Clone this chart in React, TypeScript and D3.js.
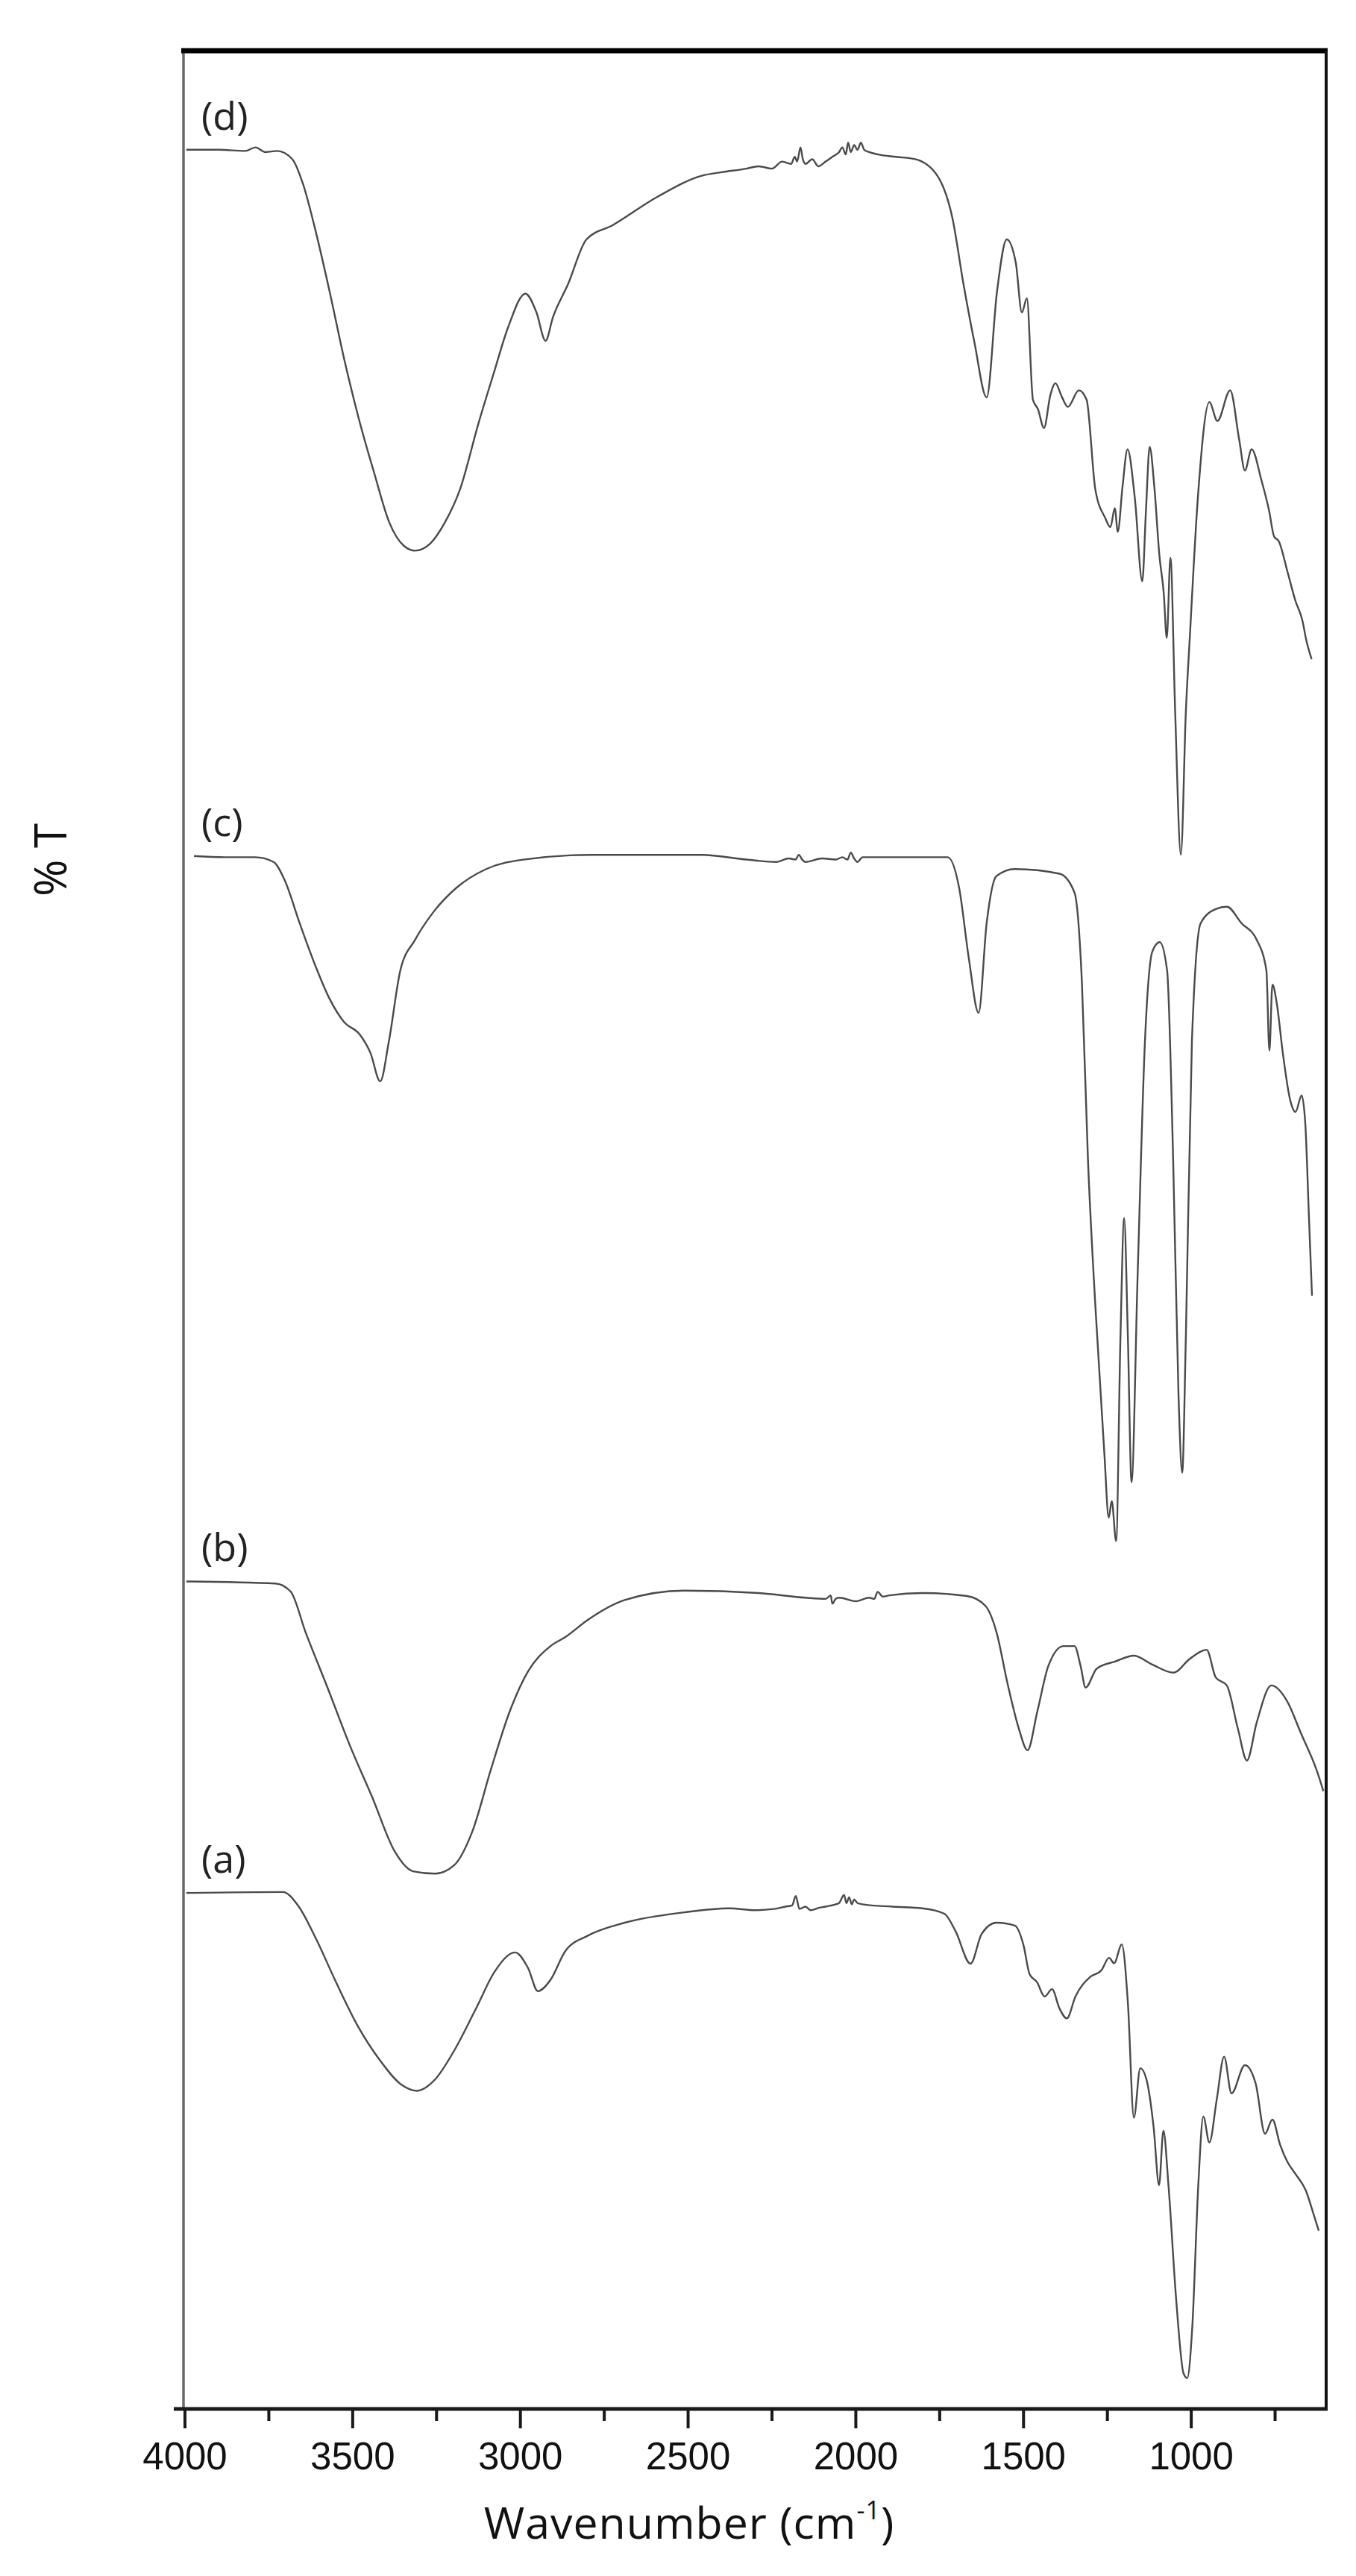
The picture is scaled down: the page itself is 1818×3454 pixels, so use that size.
import React from "react";
import * as d3 from "d3";

// FTIR spectra: [wavenumber (cm-1), %T (offset units)]
const seriesD: [number, number][] = [
  [3996,95.8],[3900,95.8],[3820,95.75],[3790,95.9],[3760,95.7],[3725,95.75],[3680,95.4],[3647,94.3],[3613,92.5],[3569,89.8],[3525,86.9],[3480,84.3],[3436,82.1],[3391,80.0],[3347,79.0],[3314,78.8],[3269,79.1],[3225,80.0],[3180,81.4],[3125,84.2],[3080,86.3],[3036,88.3],[2985,89.7],[2952,88.9],[2925,87.7],[2903,88.7],[2858,90.1],[2803,92.0],[2725,92.6],[2592,93.8],[2459,94.7],[2400,94.85],[2326,95.0],[2290,95.1],[2250,95.0],[2220,95.3],[2193,95.2],[2182,95.5],[2175,95.3],[2165,95.9],[2158,95.4],[2150,95.2],[2130,95.4],[2112,95.1],[2090,95.3],[2070,95.5],[2050,95.7],[2040,95.9],[2030,95.6],[2023,96.1],[2015,95.7],[2005,96.0],[1995,95.8],[1985,96.1],[1975,95.8],[1960,95.7],[1934,95.6],[1880,95.5],[1823,95.4],[1757,94.7],[1712,92.9],[1679,90.1],[1646,87.6],[1610,85.3],[1579,89.8],[1550,92.0],[1523,91.0],[1505,88.9],[1490,89.5],[1472,85.2],[1457,84.8],[1439,84.0],[1420,85.4],[1405,85.9],[1385,85.3],[1368,84.9],[1335,85.6],[1312,85.2],[1286,81.4],[1257,80.2],[1241,79.8],[1228,80.6],[1219,79.6],[1205,81.5],[1190,83.1],[1168,81.0],[1146,77.5],[1135,80.5],[1124,83.2],[1110,81.5],[1095,78.6],[1082,77.0],[1073,75.1],[1062,78.5],[1048,72.0],[1031,65.9],[1016,72.0],[1004,75.2],[980,81.1],[946,85.1],[922,84.3],[884,85.6],[857,83.5],[840,82.2],[820,83.1],[791,81.8],[768,80.5],[753,79.4],[739,79.2],[713,77.9],[690,76.7],[668,75.8],[657,75.0],[641,74.2]
];

const seriesC: [number, number][] = [
  [3973,65.85],[3880,65.8],[3791,65.8],[3736,65.6],[3702,64.8],[3658,63.0],[3614,61.3],[3569,59.8],[3525,58.8],[3480,58.3],[3447,57.5],[3418,56.3],[3392,58.0],[3358,61.0],[3314,62.3],[3258,63.5],[3191,64.5],[3102,65.3],[2991,65.7],[2792,65.9],[2600,65.9],[2459,65.9],[2326,65.7],[2237,65.6],[2200,65.75],[2180,65.7],[2170,65.9],[2160,65.7],[2150,65.6],[2100,65.75],[2060,65.7],[2040,65.8],[2025,65.7],[2015,66.0],[2005,65.75],[1995,65.6],[1980,65.8],[1900,65.8],[1726,65.8],[1692,64.5],[1663,61.5],[1634,59.2],[1610,63.0],[1581,65.0],[1526,65.3],[1393,65.1],[1348,64.3],[1326,60.5],[1308,53.0],[1286,46.8],[1259,40.5],[1246,37.8],[1237,38.5],[1224,36.8],[1211,45.5],[1200,50.5],[1189,45.5],[1178,39.3],[1160,48.0],[1138,58.0],[1116,61.8],[1094,62.2],[1072,61.0],[1054,53.0],[1038,43.0],[1027,39.7],[1016,45.5],[998,58.0],[972,63.0],[927,63.6],[894,63.7],[850,63.0],[805,62.3],[776,61.0],[767,57.6],[758,60.4],[745,59.6],[727,57.5],[705,55.5],[689,55.0],[671,55.7],[660,54.5],[649,50.5],[640,47.2]
];

const seriesB: [number, number][] = [
  [3996,35.09],[3730,35.0],[3685,34.66],[3641,32.96],[3574,30.55],[3508,28.12],[3442,25.95],[3375,23.65],[3320,22.8],[3254,22.7],[3198,23.05],[3143,24.5],[3087,27.16],[3032,29.57],[2977,31.28],[2910,32.35],[2866,32.73],[2799,33.46],[2689,34.3],[2511,34.7],[2290,34.6],[2150,34.4],[2090,34.35],[2075,34.5],[2070,34.15],[2060,34.35],[2050,34.4],[2000,34.25],[1960,34.4],[1945,34.35],[1935,34.65],[1920,34.45],[1900,34.5],[1802,34.6],[1669,34.47],[1614,34.06],[1581,32.96],[1548,30.78],[1514,28.85],[1488,27.93],[1459,29.57],[1426,31.51],[1381,32.35],[1348,32.35],[1330,31.51],[1315,30.59],[1282,31.39],[1226,31.7],[1171,31.94],[1115,31.56],[1053,31.22],[1005,31.8],[954,32.19],[927,31.02],[894,30.68],[861,28.85],[834,27.5],[805,29.1],[761,30.68],[716,30.06],[672,28.62],[628,27.16],[606,26.2]
];

const seriesA: [number, number][] = [
  [3996,21.88],[3708,21.92],[3663,21.35],[3608,19.9],[3553,18.2],[3486,16.27],[3420,14.81],[3353,13.73],[3309,13.49],[3254,13.98],[3198,15.18],[3132,16.99],[3076,18.56],[3016,19.36],[2977,18.69],[2948,17.72],[2910,18.2],[2866,19.42],[2799,20.07],[2689,20.62],[2511,21.06],[2378,21.23],[2300,21.15],[2245,21.2],[2210,21.3],[2190,21.35],[2179,21.75],[2168,21.2],[2150,21.3],[2135,21.15],[2110,21.25],[2090,21.3],[2060,21.4],[2050,21.45],[2035,21.8],[2028,21.45],[2020,21.7],[2012,21.4],[2005,21.6],[1995,21.45],[1980,21.4],[1891,21.3],[1802,21.23],[1736,21.0],[1703,20.27],[1658,18.88],[1625,20.14],[1581,20.62],[1526,20.5],[1500,19.66],[1482,18.44],[1460,18.1],[1437,17.49],[1415,17.8],[1393,16.99],[1371,16.56],[1345,17.5],[1301,18.32],[1268,18.6],[1245,19.13],[1230,18.9],[1207,19.7],[1189,17.24],[1171,12.35],[1152,14.45],[1134,14.0],[1112,11.92],[1096,9.49],[1083,11.8],[1068,9.5],[1045,4.65],[1023,1.51],[1012,1.31],[997,3.45],[979,9.49],[964,12.4],[946,11.3],[924,13.12],[902,14.94],[880,13.38],[840,14.58],[808,13.8],[780,11.67],[758,12.27],[735,11.2],[713,10.47],[691,10.0],[658,9.25],[636,8.29],[620,7.56]
];

const seriesLabels = ["(d)", "(c)", "(b)", "(a)"];
const seriesList = [seriesD, seriesC, seriesB, seriesA];
const majorTicks = [4000, 3500, 3000, 2500, 2000, 1500, 1000];
const minorTicks = [3750, 3250, 2750, 2250, 1750, 1250, 750];
const xTitle = "Wavenumber (cm";
const xTitleSup = "-1";
const yTitle = "% T";

export default function App() {
  const W = 1818, H = 3454;
  const left = 248, right = 1777, top = 68, bottom = 3230;
  const x = d3.scaleLinear().domain([4000, 600]).range([left, right]);
  const y = d3.scaleLinear().domain([0, 100]).range([bottom, top]);
  const line = d3.line<[number, number]>()
    .x(d => x(d[0]))
    .y(d => y(d[1]))
    .curve(d3.curveMonotoneX);
  const tickFont = "'Liberation Sans', Arial, sans-serif";
  const textFont = "'Open Sans', 'Noto Sans', sans-serif";

  return (
    <svg width={W} height={H} viewBox={`0 0 ${W} ${H}`}
      style={{ position: "absolute", left: 0, top: 0, background: "#fff" }}>
      <rect x={0} y={0} width={W} height={H} fill="#fff" />
      {/* frame */}
      <line x1={left - 2} x2={left - 2} y1={top - 3} y2={bottom} stroke="#6a6a6a" strokeWidth={3.5} />
      <line x1={left - 5} x2={right + 3} y1={top} y2={top} stroke="#000" strokeWidth={7} />
      <line x1={right + 1} x2={right + 1} y1={top} y2={bottom + 2} stroke="#111" strokeWidth={4} />
      <line x1={left - 15} x2={right + 3} y1={bottom} y2={bottom} stroke="#1a1a1a" strokeWidth={5} />
      {/* ticks */}
      {majorTicks.map(t => (
        <line key={"M" + t} x1={x(t)} x2={x(t)} y1={bottom} y2={bottom + 26} stroke="#1a1a1a" strokeWidth={4} />
      ))}
      {minorTicks.map(t => (
        <line key={"m" + t} x1={x(t)} x2={x(t)} y1={bottom} y2={bottom + 16} stroke="#1a1a1a" strokeWidth={4} />
      ))}
      {majorTicks.map(t => (
        <text key={"L" + t} x={x(t)} y={3311} textAnchor="middle" fontFamily={tickFont}
          fontSize={51} fill="#111">{t}</text>
      ))}
      {/* axis titles */}
      <text x={924} y={3404} textAnchor="middle" fontFamily={textFont} fontSize={59}
        letterSpacing={1} fill="#111">
        {xTitle}
        <tspan fontSize={34} dy={-26}>{xTitleSup}</tspan>
        <tspan dy={26}>)</tspan>
      </text>
      <text transform="translate(89,1153) rotate(-90)" textAnchor="middle" fontFamily={textFont}
        fontSize={60} fill="#111">{yTitle}</text>
      {/* spectra */}
      {seriesList.map((s, i) => (
        <path key={"p" + i} d={line(s) || ""} fill="none" stroke="#4a4a4a" strokeWidth={2.4}
          strokeLinejoin="round" />
      ))}
      {seriesList.map((s, i) => (
        <text key={"t" + i} x={270} y={y(s[0][1]) - 27} fontFamily={textFont} fontSize={52}
          fill="#222">{seriesLabels[i]}</text>
      ))}
    </svg>
  );
}
